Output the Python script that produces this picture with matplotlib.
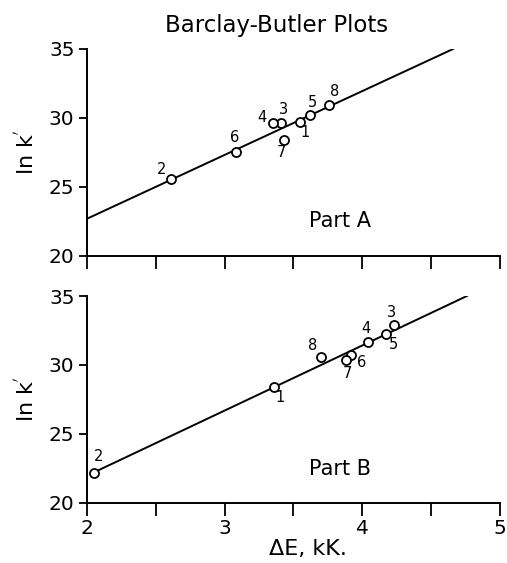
import matplotlib
matplotlib.use("Agg")
import matplotlib.pyplot as plt

plt.rcParams['font.family'] = ['DejaVu Sans']

# Part A data (Delta E in kK, ln k')
a_ids = ['1', '2', '3', '4', '5', '6', '7', '8']
a_de = [3.55, 2.61, 3.41, 3.35, 3.62, 3.08, 3.43, 3.76]
a_lnk = [29.71, 25.6, 29.62, 29.62, 30.22, 27.51, 28.41, 30.94]
a_fit_x = [2.0, 4.66]
a_fit_y = [22.7, 35.0]

# Part B data
b_ids = ['1', '2', '3', '4', '5', '6', '7', '8']
b_de = [3.36, 2.05, 4.23, 4.04, 4.17, 3.92, 3.88, 3.70]
b_lnk = [28.41, 22.18, 32.9, 31.69, 32.27, 30.72, 30.38, 30.57]
b_fit_x = [2.05, 4.76]
b_fit_y = [22.2, 35.0]

# label offsets in pixels (dx, dy), dy positive = up
a_off = {'1': (5, -11), '2': (-9, 9), '3': (2, 14), '4': (-11, 6),
         '5': (2, 12), '6': (-1, 15), '7': (-2, -13), '8': (5, 14)}
b_off = {'1': (6, -11), '2': (5, 16), '3': (-2, 12), '4': (-2, 13),
         '5': (8, -11), '6': (10, -8), '7': (2, -14), '8': (-8, 12)}

fig = plt.figure(figsize=(5.07, 5.63), dpi=100)
ax1 = fig.add_axes([0.1716, 0.5453, 0.8144, 0.3677])
ax2 = fig.add_axes([0.1716, 0.1071, 0.8144, 0.3671])

panels = [(ax1, a_ids, a_de, a_lnk, a_fit_x, a_fit_y, a_off, 'Part A', 22.5),
          (ax2, b_ids, b_de, b_lnk, b_fit_x, b_fit_y, b_off, 'Part B', 22.45)]

for ax, ids, xs, ys, fx, fy, off, name, name_y in panels:
    ax.plot(fx, fy, color='black', lw=1.4, zorder=2)
    ax.plot(xs, ys, 'o', mfc='white', mec='black', ms=6.5, mew=1.3, zorder=3)
    for i, x, y in zip(ids, xs, ys):
        dx, dy = off[i]
        ax.annotate(i, (x, y), xytext=(dx * 0.72, dy * 0.72),
                    textcoords='offset points', ha='center', va='center',
                    fontsize=10.5)
    ax.text(3.84, name_y, name, ha='center', va='center', fontsize=15)
    ax.set_xlim(2, 5)
    ax.set_ylim(20, 35)
    ax.spines['top'].set_visible(False)
    ax.spines['right'].set_visible(False)
    ax.spines['left'].set_linewidth(1.4)
    ax.spines['bottom'].set_linewidth(1.4)
    ax.set_yticks([20, 25, 30, 35])
    ax.set_xticks([2, 2.5, 3, 3.5, 4, 4.5, 5])
    ax.tick_params(axis='y', direction='out', length=6, width=1.3,
                   labelsize=14.5, pad=3)
    ax.tick_params(axis='x', direction='out', length=9.5, width=1.3,
                   labelsize=14.5, pad=2)
    ax.text(-0.148, 0.5, "ln k$^{'}$", transform=ax.transAxes, rotation=90,
            ha='center', va='center', fontsize=16)

ax1.set_xticklabels([])
ax2.set_xticklabels(['2', '', '3', '', '4', '', '5'])
ax2.set_xlabel('ΔE, kK.', fontsize=16, labelpad=1, x=0.535)
fig.text(0.546, 0.955, 'Barclay-Butler Plots', ha='center', va='center',
         fontsize=16.5)

fig.savefig('out.png', dpi=100)
